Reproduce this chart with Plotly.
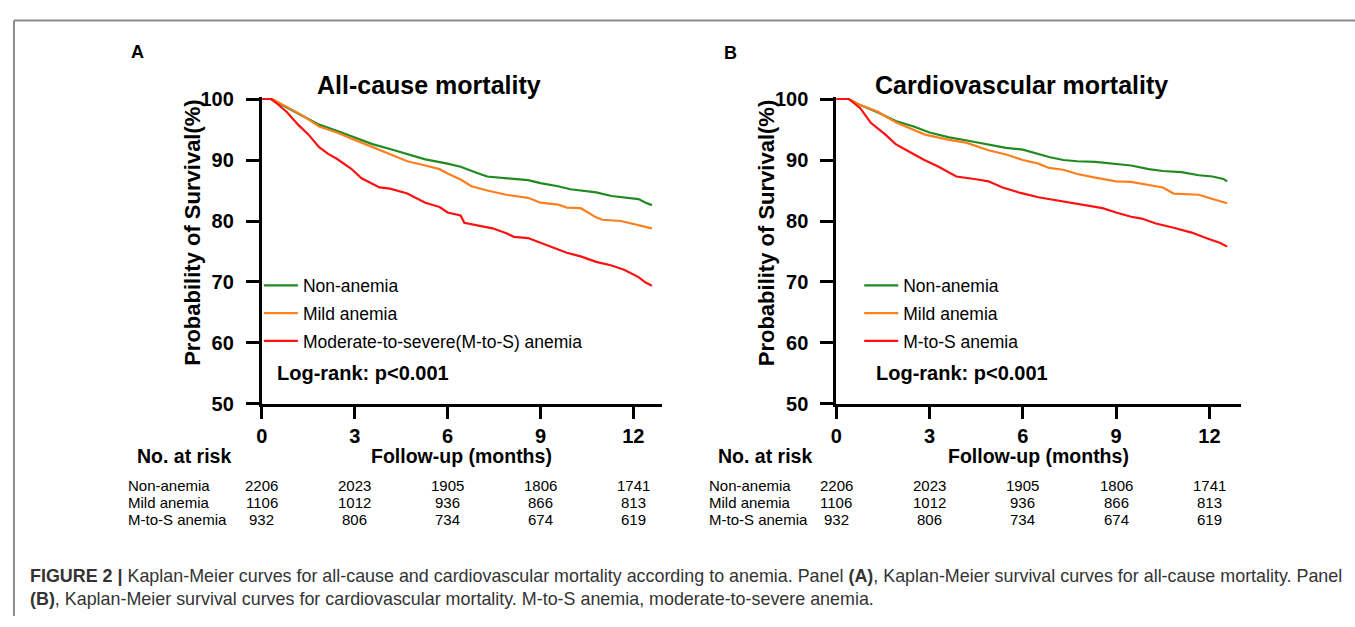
import plotly.graph_objects as go

W, H = 1355, 627
FONT = "Liberation Sans, Arial, Helvetica, sans-serif"

# ---------------- data ----------------
groups = ["Non-anemia", "Mild anemia", "Moderate-to-severe(M-to-S) anemia"]
groups_b = ["Non-anemia", "Mild anemia", "M-to-S anemia"]
risk_labels = ["Non-anemia", "Mild anemia", "M-to-S anemia"]
colors = ["#1f8a1f", "#ff7f1e", "#ff1010"]

# Panel A: all-cause mortality
a_non_t = [0, 0.3, 0.7, 1.28, 1.85, 2.42, 3.0, 3.57, 4.14, 4.7, 5.28, 6.0, 6.42, 7.0, 7.28, 8.14, 8.6, 9.0, 9.57, 9.97, 10.8, 11.3, 11.8, 12.17, 12.4, 12.6]
a_non_s = [100, 100, 98.9, 97.3, 95.8, 94.8, 93.7, 92.6, 91.8, 91.0, 90.1, 89.4, 88.9, 87.8, 87.3, 86.9, 86.7, 86.2, 85.7, 85.2, 84.7, 84.1, 83.8, 83.6, 83.0, 82.6]
a_mild_t = [0, 0.35, 0.7, 1.28, 1.85, 2.42, 3.0, 3.57, 4.14, 4.7, 5.28, 5.74, 6.0, 6.42, 6.77, 7.28, 7.9, 8.6, 9.0, 9.57, 9.85, 10.3, 10.8, 11.0, 11.6, 12.17, 12.6]
a_mild_s = [100, 100, 99.0, 97.4, 95.5, 94.5, 93.3, 92.1, 91.0, 89.8, 89.1, 88.5, 87.8, 86.8, 85.7, 85.0, 84.3, 83.8, 83.0, 82.7, 82.2, 82.1, 80.6, 80.2, 80.0, 79.3, 78.8]
a_mts_t = [0, 0.3, 0.48, 0.82, 1.17, 1.5, 1.85, 2.14, 2.42, 2.88, 3.22, 3.8, 4.14, 4.7, 5.28, 5.74, 6.0, 6.42, 6.54, 7.0, 7.45, 7.9, 8.14, 8.6, 9.0, 9.4, 9.85, 10.3, 10.8, 11.3, 11.7, 12.17, 12.4, 12.6]
a_mts_s = [100, 100, 99.3, 97.8, 95.8, 94.2, 92.1, 91.0, 90.2, 88.6, 87.0, 85.5, 85.3, 84.5, 83.0, 82.3, 81.4, 80.9, 79.7, 79.3, 78.8, 78.0, 77.4, 77.2, 76.4, 75.6, 74.8, 74.2, 73.3, 72.7, 72.0, 70.8, 69.9, 69.4]

# Panel B: cardiovascular mortality
b_non_t = [0, 0.4, 0.77, 1.34, 1.91, 2.49, 3.0, 3.63, 4.2, 4.89, 5.46, 6.0, 6.5, 6.84, 7.3, 7.75, 8.33, 9.0, 9.48, 10.05, 10.5, 11.1, 11.66, 12.1, 12.45, 12.57]
b_non_s = [100, 100, 99.0, 97.8, 96.4, 95.5, 94.5, 93.7, 93.2, 92.6, 92.0, 91.7, 91.0, 90.5, 90.0, 89.8, 89.7, 89.3, 89.1, 88.5, 88.2, 88.0, 87.5, 87.3, 86.9, 86.5]
b_mild_t = [0, 0.4, 0.77, 1.34, 1.91, 2.49, 2.83, 3.0, 3.63, 4.2, 4.89, 5.46, 6.0, 6.5, 6.84, 7.3, 7.75, 8.33, 9.0, 9.48, 10.05, 10.5, 10.85, 11.66, 12.1, 12.57]
b_mild_s = [100, 100, 99.0, 97.9, 96.2, 95.0, 94.2, 94.0, 93.3, 92.8, 91.6, 90.9, 90.0, 89.4, 88.7, 88.4, 87.7, 87.1, 86.5, 86.4, 85.9, 85.5, 84.5, 84.3, 83.6, 82.9]
b_mts_t = [0, 0.4, 0.77, 1.11, 1.57, 1.91, 2.26, 2.83, 3.29, 3.86, 4.55, 4.89, 5.35, 5.92, 6.5, 6.84, 7.53, 8.1, 8.56, 9.0, 9.48, 9.82, 10.28, 10.85, 11.43, 11.89, 12.35, 12.57]
b_mts_s = [100, 100, 98.5, 96.1, 94.2, 92.6, 91.6, 90.0, 88.9, 87.3, 86.8, 86.5, 85.5, 84.6, 83.9, 83.6, 83.0, 82.5, 82.1, 81.4, 80.7, 80.4, 79.6, 78.9, 78.1, 77.2, 76.4, 75.8]

risk_times = [0, 3, 6, 9, 12]
risk_non = [2206, 2023, 1905, 1806, 1741]
risk_mild = [1106, 1012, 936, 866, 813]
risk_mts = [932, 806, 734, 674, 619]

x_ticks = [0, 3, 6, 9, 12]
y_ticks = [50, 60, 70, 80, 90, 100]

# ---------------- helpers ----------------
def px(x):
    return x / W

def py(y):
    return 1 - y / H

fig = go.Figure()

curves_a = [(a_non_t, a_non_s), (a_mild_t, a_mild_s), (a_mts_t, a_mts_s)]
curves_b = [(b_non_t, b_non_s), (b_mild_t, b_mild_s), (b_mts_t, b_mts_s)]

for i, (t, s) in enumerate(curves_a):
    fig.add_trace(go.Scatter(x=t, y=s, mode="lines", name=groups[i],
                             line=dict(color=colors[i], width=2.2),
                             xaxis="x", yaxis="y", legend="legend",
                             legendgroup="a%d" % i, hoverinfo="skip"))
for i, (t, s) in enumerate(curves_b):
    fig.add_trace(go.Scatter(x=t, y=s, mode="lines", name=groups_b[i],
                             line=dict(color=colors[i], width=2.2),
                             xaxis="x2", yaxis="y2", legend="legend2",
                             legendgroup="b%d" % i, hoverinfo="skip"))

tickfont = dict(family=FONT, size=20, color="black", weight="bold")
ydom = [py(408), py(91.4)]
common_x = dict(showline=True, linewidth=3, linecolor="black", ticks="outside",
                ticklen=12, tickwidth=3, tickcolor="black", tickvals=x_ticks,
                tickfont=tickfont, showgrid=False, zeroline=False,
                fixedrange=True, ticklabelstandoff=0)
common_y = dict(showline=True, linewidth=3, linecolor="black", ticks="outside",
                ticklen=13, tickwidth=3, tickcolor="black", tickvals=y_ticks,
                tickfont=tickfont, showgrid=False, zeroline=False,
                range=[50, 100.25], domain=ydom, fixedrange=True,
                ticklabelstandoff=8)

legend_common = dict(font=dict(family=FONT, size=17.5, color="black"),
                     bgcolor="rgba(0,0,0,0)", itemwidth=34, traceorder="grouped",
                     tracegroupgap=2, xanchor="left", yanchor="top",
                     itemclick=False, itemdoubleclick=False)

fig.update_layout(
    width=W, height=H, margin=dict(l=0, r=0, t=0, b=0),
    paper_bgcolor="white", plot_bgcolor="white", showlegend=True,
    xaxis=dict(common_x, domain=[px(257), px(659)], range=[0, 12.93], anchor="y"),
    yaxis=dict(common_y, anchor="x"),
    xaxis2=dict(common_x, domain=[px(834), px(1240)], range=[0, 13.0], anchor="y2"),
    yaxis2=dict(common_y, anchor="x2"),
    legend=dict(legend_common, x=px(254), y=py(267)),
    legend2=dict(legend_common, x=px(857), y=py(267)),
)

ann = []

def text(x, y, s, size, bold=False, xanchor="center", xref="paper", angle=0, color="black"):
    ann.append(dict(x=x if xref != "paper" else px(x), y=py(y), xref=xref, yref="paper",
                    text=s, showarrow=False, xanchor=xanchor, yanchor="middle",
                    textangle=angle,
                    font=dict(family=FONT, size=size, color=color,
                              weight="bold" if bold else "normal")))

# panel letters and titles
text(132, 44, "A", 18, bold=True)
text(728, 45, "B", 18, bold=True)
text(425, 78, "All-cause mortality", 25, bold=True)
text(1020, 78, "Cardiovascular mortality", 25, bold=True)

# y-axis titles
text(187, 231, "Probability of Survival(%)", 22, bold=True, angle=-90)
text(764, 231, "Probability of Survival(%)", 22, bold=True, angle=-90)

# log-rank
text(270, 376, "Log-rank: p<0.001", 20, bold=True, xanchor="left")
text(872, 376, "Log-rank: p<0.001", 20, bold=True, xanchor="left")

# x titles and risk headers
text(458, 462, "Follow-up (months)", 19.5, bold=True)
text(1037, 462, "Follow-up (months)", 19.5, bold=True)
text(179, 462, "No. at risk", 19.5, bold=True)
text(762, 462, "No. at risk", 19.5, bold=True)

row_y = [492, 509.5, 527]
risk_rows = [risk_non, risk_mild, risk_mts]
for label_x, xr in [(121, "x"), (704, "x2")]:
    for r, lab in enumerate(risk_labels):
        text(label_x, row_y[r], lab, 15, xanchor="left")
        for k, tm in enumerate(risk_times):
            text(tm, row_y[r], str(risk_rows[r][k]), 15, xref=xr)

# caption
cap1 = ("<b>FIGURE 2 |</b> Kaplan-Meier curves for all-cause and cardiovascular mortality "
        "according to anemia. Panel <b>(A)</b>, Kaplan-Meier survival curves for all-cause "
        "mortality. Panel")
cap2 = ("<b>(B)</b>, Kaplan-Meier survival curves for cardiovascular mortality. "
        "M-to-S anemia, moderate-to-severe anemia.")
text(22, 586, cap1, 17.9, xanchor="left", color="#333333")
text(22, 609, cap2, 17.9, xanchor="left", color="#333333")

fig.update_layout(annotations=ann)

# frame lines (figure border)
fig.update_layout(shapes=[
    dict(type="line", xref="paper", yref="paper", x0=px(8), x1=1.0, y0=py(12), y1=py(12),
         line=dict(color="#8a8a8a", width=2)),
    dict(type="line", xref="paper", yref="paper", x0=px(8), x1=px(8), y0=py(12), y1=0.0,
         line=dict(color="#8a8a8a", width=2)),
])

fig.write_html("out.html", config={"displayModeBar": False},
               post_script="document.body.style.margin='0';document.body.style.overflow='hidden';")
